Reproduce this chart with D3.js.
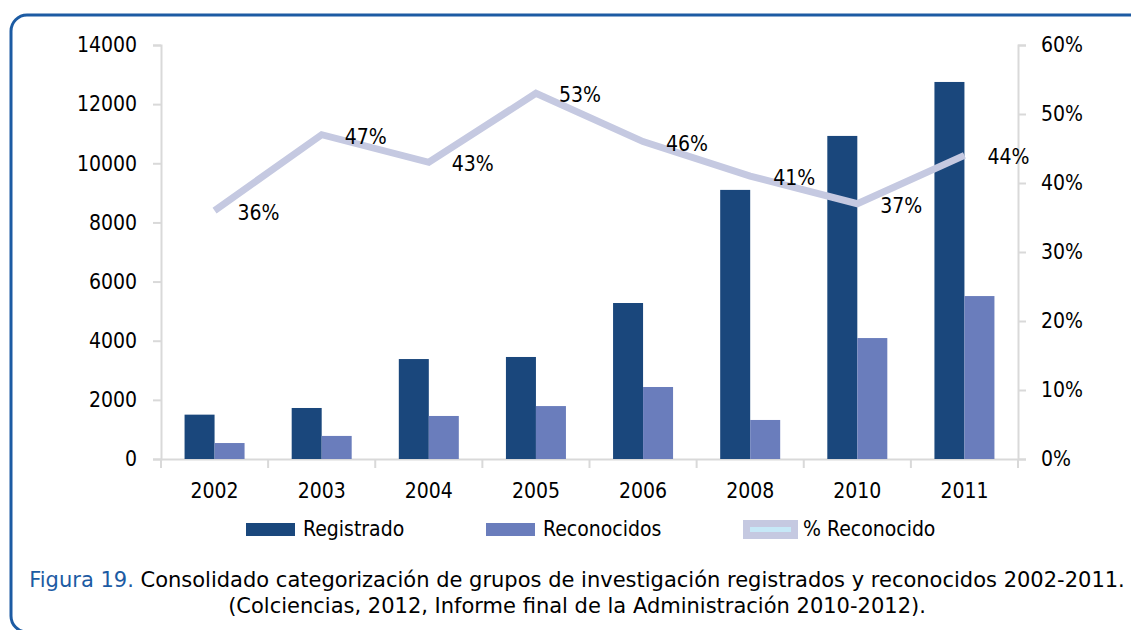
<!DOCTYPE html>
<html>
<head>
<meta charset="utf-8">
<script src="https://cdn.jsdelivr.net/npm/d3@7"></script>
<style>
  body { margin: 0; background: #fff; }
  svg text { font-family: Tahoma, "DejaVu Sans Condensed", "DejaVu Sans", sans-serif; fill: #000; }
</style>
</head>
<body>
<svg id="chart" width="1131" height="630"></svg>
<script>
// data
var years = ["2002", "2003", "2004", "2005", "2006", "2008", "2010", "2011"];
var registrado = [1500, 1725, 3380, 3450, 5275, 9100, 10925, 12750];
var reconocidos = [540, 780, 1455, 1790, 2435, 1320, 4090, 5510];
var pctReconocido = [36, 47, 43, 53, 46, 41, 37, 44];
var leftTicks = [0, 2000, 4000, 6000, 8000, 10000, 12000, 14000];
var rightTicks = [0, 10, 20, 30, 40, 50, 60];
var seriesNames = ["Registrado", "Reconocidos", "% Reconocido"];

var config = {
    left: 161, right: 1018, top: 45, bottom: 459,
    darkBar: "#1a477c", lightBar: "#6a7dbc", lineColor: "#c5c9e1",
    axisColor: "#d9d9d9", frameColor: "#1c5ba3", barWidth: 30,
    fontSize: "21px"
};

var svg = d3.select("#chart");

// blue rounded frame (bottom edge sits just below the picture)
svg.append("rect")
    .attr("x", 11).attr("y", 15)
    .attr("width", 1200).attr("height", 617)
    .attr("rx", 16).attr("ry", 16)
    .style("fill", "none")
    .style("stroke", config.frameColor)
    .style("stroke-width", 3);

var x = d3.scaleBand().domain(years).range([config.left, config.right]);
var yL = d3.scaleLinear().domain([0, 14000]).range([config.bottom, config.top]);
var yR = d3.scaleLinear().domain([0, 60]).range([config.bottom, config.top]);

// left axis
var gl = svg.append("g").attr("transform", "translate(" + config.left + ",0)")
    .call(d3.axisLeft(yL).tickValues(leftTicks).tickSize(8).tickPadding(16)
        .tickFormat(d3.format("d")));
// right axis
var gr = svg.append("g").attr("transform", "translate(" + config.right + ",0)")
    .call(d3.axisRight(yR).tickValues(rightTicks).tickSize(8).tickPadding(15)
        .tickFormat(function(d) { return d + "%"; }));
// bottom axis
var gb = svg.append("g").attr("transform", "translate(0," + config.bottom + ")")
    .call(d3.axisBottom(x).tickSize(0).tickPadding(24));

[gl, gr, gb].forEach(function(g) {
    g.select(".domain").style("stroke", config.axisColor).style("stroke-width", 2);
    g.selectAll(".tick line").style("stroke", config.axisColor).style("stroke-width", 2);
    g.selectAll("text").style("font-size", config.fontSize).style("font-family", null);
});

// category separators on x axis
var bounds = years.map(function(d) { return x(d); }).concat([config.right]);
svg.append("g").selectAll("line").data(bounds).enter().append("line")
    .attr("x1", function(d) { return d; }).attr("x2", function(d) { return d; })
    .attr("y1", config.bottom).attr("y2", config.bottom + 9)
    .style("stroke", config.axisColor).style("stroke-width", 2);

// bars
var mid = function(d) { return x(d) + x.bandwidth() / 2; };
svg.append("g").selectAll("rect").data(years).enter().append("rect")
    .attr("x", function(d) { return mid(d) - config.barWidth; })
    .attr("y", function(d, i) { return yL(registrado[i]); })
    .attr("width", config.barWidth)
    .attr("height", function(d, i) { return config.bottom - yL(registrado[i]); })
    .style("fill", config.darkBar);
svg.append("g").selectAll("rect").data(years).enter().append("rect")
    .attr("x", function(d) { return mid(d); })
    .attr("y", function(d, i) { return yL(reconocidos[i]); })
    .attr("width", config.barWidth)
    .attr("height", function(d, i) { return config.bottom - yL(reconocidos[i]); })
    .style("fill", config.lightBar);

// percentage line
var line = d3.line()
    .x(function(d, i) { return mid(years[i]); })
    .y(function(d) { return yR(d); });
svg.append("path").datum(pctReconocido)
    .attr("d", line)
    .style("fill", "none")
    .style("stroke", config.lineColor)
    .style("stroke-width", 7);

svg.append("g").selectAll("text").data(pctReconocido).enter().append("text")
    .attr("x", function(d, i) { return mid(years[i]) + 44; })
    .attr("y", function(d) { return yR(d) + 3; })
    .attr("text-anchor", "middle")
    .attr("dominant-baseline", "middle")
    .style("font-size", config.fontSize)
    .text(function(d) { return d + "%"; });

// legend
var legend = svg.append("g").style("font-size", config.fontSize);
legend.append("rect").attr("x", 246).attr("y", 523).attr("width", 49).attr("height", 13).style("fill", config.darkBar);
legend.append("text").attr("x", 303).attr("y", 530).attr("dominant-baseline", "middle").text(seriesNames[0]);
legend.append("rect").attr("x", 486).attr("y", 523).attr("width", 49).attr("height", 13).style("fill", config.lightBar);
legend.append("text").attr("x", 543).attr("y", 530).attr("dominant-baseline", "middle").text(seriesNames[1]);
legend.append("rect").attr("x", 743).attr("y", 520).attr("width", 55).attr("height", 19).style("fill", config.lineColor);
legend.append("line").attr("x1", 750).attr("x2", 791).attr("y1", 529.5).attr("y2", 529.5)
    .style("stroke", "#c6e8f7").style("stroke-width", 5);
legend.append("text").attr("x", 803).attr("y", 530).attr("dominant-baseline", "middle").text(seriesNames[2]);

// caption
var cap = svg.append("text").attr("x", 577).attr("y", 587).attr("text-anchor", "middle")
    .style("font-size", config.fontSize).style("font-family", "'DejaVu Sans', sans-serif");
cap.append("tspan").style("fill", config.frameColor).text("Figura 19.");
cap.append("tspan").text(" Consolidado categorización de grupos de investigación registrados y reconocidos 2002-2011.");
svg.append("text").attr("x", 577).attr("y", 613).attr("text-anchor", "middle")
    .style("font-size", config.fontSize).style("font-family", "'DejaVu Sans', sans-serif")
    .text("(Colciencias, 2012, Informe final de la Administración 2010-2012).");
</script>
</body>
</html>
